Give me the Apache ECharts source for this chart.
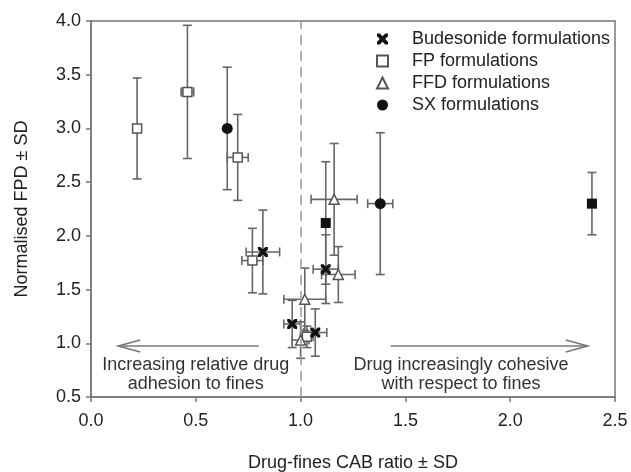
<!DOCTYPE html>
<html>
<head>
<meta charset="utf-8">
<script src="https://cdn.jsdelivr.net/npm/echarts@6/dist/echarts.min.js"></script>
<style>
html, body { margin: 0; padding: 0; background: #fff; }
#chart { width: 631px; height: 472px; }
</style>
</head>
<body>
<div id="chart"></div>
<script>
// values (x = CAB ratio, y = normalised FPD, plus SDs)
const budX = [0.82, 0.96, 1.07, 1.12];
const budY = [1.85, 1.18, 1.10, 1.69];
const budXSD = [0.08, 0.04, 0.055, 0.06];
const budYSD = [0.39, 0.22, 0.22, 0.32];

const fpX = [0.22, 0.46, 0.70, 0.77, 1.03];
const fpY = [3.00, 3.34, 2.73, 1.77, 1.06];
const fpXSD = [0, 0.03, 0.05, 0.05, 0.03];
const fpYSD = [0.47, 0.62, 0.40, 0.30, 0.10];

const ffdX = [1.00, 1.02, 1.16, 1.18];
const ffdY = [1.03, 1.41, 2.34, 1.64];
const ffdXSD = [0.04, 0.10, 0.11, 0.08];
const ffdYSD = [0.17, 0.29, 0.52, 0.26];

const sxX = [0.65, 1.38];
const sxY = [3.00, 2.30];
const sxXSD = [0, 0.06];
const sxYSD = [0.57, 0.66];

// SX points drawn as filled squares in the original
const sxSqX = [1.12, 2.39];
const sxSqY = [2.12, 2.30];
const sxSqXSD = [0, 0.02];
const sxSqYSD = [0.57, 0.29];

const xTicks = [0, 0.5, 1.0, 1.5, 2.0, 2.5];
const yTicks = [0.5, 1.0, 1.5, 2.0, 2.5, 3.0, 3.5, 4.0];

// annotations (data coords)
const arrowFrom = [0.80, 1.43];
const arrowTo = [0.13, 2.37];
const arrowY = [0.975, 0.975];
const noteX = [0.50, 1.765];
const noteY = [0.71, 0.71];
const noteText = ['Increasing relative drug\nadhesion to fines', 'Drug increasingly cohesive\nwith respect to fines'];

const FONT = 'Liberation Sans, Arial, sans-serif';
const crossPath = 'path://M0,0 L2.6,0 L5,2.6 L7.4,0 L10,0 L10,2.6 L7.4,5 L10,7.4 L10,10 L7.4,10 L5,7.4 L2.6,10 L0,10 L0,7.4 L2.6,5 L0,2.6 Z';

const zip = (xs, ys) => xs.map((x, i) => [x, ys[i]]);
const errRows = (xs, ys, xsd, ysd) => xs.map((x, i) => [x, ys[i], xsd[i], ysd[i]]);

const errData = [].concat(
  errRows(budX, budY, budXSD, budYSD),
  errRows(fpX, fpY, fpXSD, fpYSD),
  errRows(ffdX, ffdY, ffdXSD, ffdYSD),
  errRows(sxX, sxY, sxXSD, sxYSD),
  errRows(sxSqX, sxSqY, sxSqXSD, sxSqYSD)
);

function renderErr(params, api) {
  const x = api.value(0), y = api.value(1), xe = api.value(2), ye = api.value(3);
  const style = { stroke: '#666', lineWidth: 1.6, fill: null };
  const cap = 4.5;
  const kids = [];
  if (ye > 0) {
    const t = api.coord([x, y + ye]), b = api.coord([x, y - ye]);
    kids.push({ type: 'line', shape: { x1: t[0], y1: t[1], x2: b[0], y2: b[1] }, style });
    kids.push({ type: 'line', shape: { x1: t[0] - cap, y1: t[1], x2: t[0] + cap, y2: t[1] }, style });
    kids.push({ type: 'line', shape: { x1: b[0] - cap, y1: b[1], x2: b[0] + cap, y2: b[1] }, style });
  }
  if (xe > 0) {
    const l = api.coord([x - xe, y]), r = api.coord([x + xe, y]);
    kids.push({ type: 'line', shape: { x1: l[0], y1: l[1], x2: r[0], y2: r[1] }, style });
    kids.push({ type: 'line', shape: { x1: l[0], y1: l[1] - cap, x2: l[0], y2: l[1] + cap }, style });
    kids.push({ type: 'line', shape: { x1: r[0], y1: r[1] - cap, x2: r[0], y2: r[1] + cap }, style });
  }
  return { type: 'group', children: kids };
}

const annData = arrowFrom.map((a, i) => [a, arrowTo[i], arrowY[i], noteX[i], noteY[i]]);

function renderNote(params, api) {
  const i = params.dataIndex;
  const p1 = api.coord([api.value(0), api.value(2)]);
  const p2 = api.coord([api.value(1), api.value(2)]);
  const dir = p2[0] > p1[0] ? 1 : -1;
  const t = api.coord([api.value(3), api.value(4)]);
  const style = { stroke: '#777', lineWidth: 1.6, fill: null };
  return {
    type: 'group',
    children: [
      { type: 'line', shape: { x1: p1[0], y1: p1[1], x2: p2[0], y2: p2[1] }, style },
      { type: 'polyline', shape: { points: [[p2[0] - dir * 22, p2[1] - 6], [p2[0], p2[1]], [p2[0] - dir * 22, p2[1] + 6]] }, style },
      { type: 'text', x: t[0], y: t[1], style: {
          text: noteText[i], align: 'center', verticalAlign: 'middle',
          font: '18px ' + FONT, fill: '#333', lineHeight: 19.5 } }
    ]
  };
}

const chart = echarts.init(document.getElementById('chart'));

const openStyle = { color: '#fff', borderColor: '#555', borderWidth: 1.5, opacity: 1 };

chart.setOption({
  animation: false,
  backgroundColor: '#fff',
  textStyle: { fontFamily: FONT },
  grid: { left: 91, right: 16, top: 21, bottom: 75, show: true, borderColor: '#777', borderWidth: 1.5, outerBoundsMode: 'none' },
  legend: {
    orient: 'vertical',
    left: 371, top: 25,
    itemWidth: 11, itemHeight: 11, itemGap: 4,
    data: [
      { name: 'Budesonide formulations', icon: crossPath },
      { name: 'FP formulations', icon: 'rect' },
      { name: 'FFD formulations', icon: 'triangle' },
      { name: 'SX formulations', icon: 'circle' }
    ],
    textStyle: { fontSize: 18, color: '#222', padding: [0, 0, 0, 19], lineHeight: 18 }
  },
  xAxis: {
    type: 'value', min: 0, max: 2.5, interval: 0.5,
    name: 'Drug-fines CAB ratio ± SD', nameLocation: 'middle', nameGap: 57,
    nameTextStyle: { fontSize: 18, color: '#222' },
    axisLine: { show: true, lineStyle: { color: '#777', width: 1.5 } },
    axisTick: { show: true, length: 5, lineStyle: { color: '#777', width: 1.5 } },
    axisLabel: { fontSize: 18, color: '#222', margin: 15, formatter: v => v.toFixed(1),
      customValues: xTicks },
    splitLine: { show: false }
  },
  yAxis: {
    type: 'value', min: 0.5, max: 4, interval: 0.5,
    name: 'Normalised FPD ± SD', nameLocation: 'middle', nameGap: 60, nameRotate: 90,
    nameTextStyle: { fontSize: 18, color: '#222' },
    axisLine: { show: true, lineStyle: { color: '#777', width: 1.5 } },
    axisTick: { show: true, length: 5, lineStyle: { color: '#777', width: 1.5 } },
    axisLabel: { fontSize: 18, color: '#222', margin: 10, formatter: v => v.toFixed(1),
      customValues: yTicks },
    splitLine: { show: false }
  },
  series: [
    {
      type: 'custom', name: 'notes', renderItem: renderNote, data: annData,
      encode: { x: [0, 1], y: 2 }, silent: true, z: 1,
      markLine: {
        silent: true, symbol: 'none', label: { show: false },
        lineStyle: { color: '#999', type: [10, 6], width: 1.5 },
        data: [{ xAxis: 1 }]
      }
    },
    {
      type: 'custom', name: 'errors', renderItem: renderErr, data: errData,
      encode: { x: 0, y: 1 }, silent: true, z: 2
    },
    {
      type: 'scatter', name: 'Budesonide formulations', data: zip(budX, budY),
      symbol: crossPath, symbolSize: 10, itemStyle: { color: '#111', opacity: 1 }, z: 5
    },
    {
      type: 'scatter', name: 'FP formulations', data: zip(fpX, fpY),
      symbol: 'rect', symbolSize: 9, itemStyle: openStyle, z: 4
    },
    {
      type: 'scatter', name: 'FFD formulations', data: zip(ffdX, ffdY),
      symbol: 'triangle', symbolSize: 10, itemStyle: openStyle, z: 4
    },
    {
      type: 'scatter', name: 'SX formulations', data: zip(sxX, sxY),
      symbol: 'circle', symbolSize: 11, itemStyle: { color: '#111', opacity: 1 }, z: 5
    },
    {
      type: 'scatter', name: 'SX (square)', data: zip(sxSqX, sxSqY),
      symbol: 'rect', symbolSize: 10, itemStyle: { color: '#111', opacity: 1 }, z: 5
    }
  ]
});
</script>
</body>
</html>
